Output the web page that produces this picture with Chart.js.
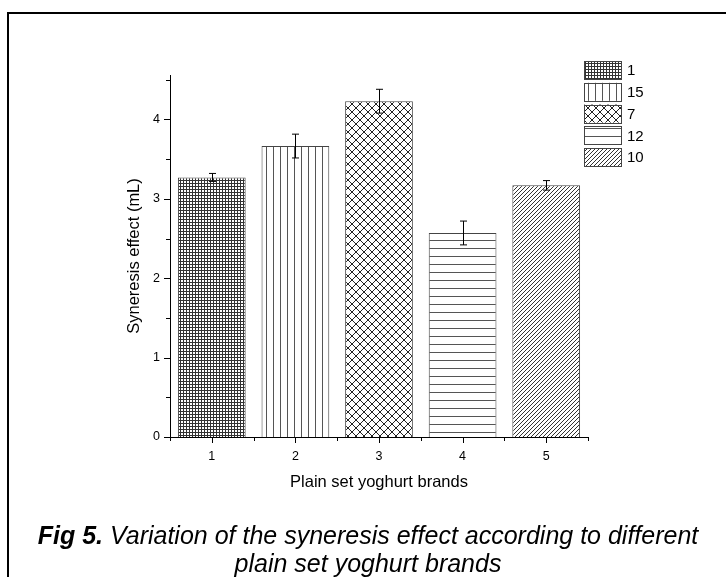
<!DOCTYPE html>
<html>
<head>
<meta charset="utf-8">
<script src="https://cdn.jsdelivr.net/npm/chart.js@4.4.1/dist/chart.umd.min.js"></script>
<style>
  html, body { margin: 0; padding: 0; background: #fff; overflow: hidden; }
  #wrap { position: relative; width: 726px; height: 577px; overflow: hidden; }
  #frame { position: absolute; left: 7px; top: 12px; width: 800px; height: 700px;
           border-top: 2px solid #000; border-left: 2px solid #000; }
  #chart { position: absolute; left: 0; top: 0; }
  .cap { position: absolute; left: 0; width: 736px; text-align: center;
         font: italic 25px 'Liberation Sans', Arial, sans-serif; line-height: 28px;
         color: #000; white-space: nowrap; }
</style>
</head>
<body>
<div id="wrap">
  <div id="frame"></div>
  <canvas id="chart" width="726" height="577"></canvas>
  <div class="cap" style="top:521px"><b>Fig 5.</b> Variation of the syneresis effect according to different</div>
  <div class="cap" style="top:549px">plain set yoghurt brands</div>
</div>
<script>
// data
const brands = ['1', '2', '3', '4', '5'];
const legendLabels = ['1', '15', '7', '12', '10'];
const syneresis = [3.27, 3.665, 4.23, 2.57, 3.17];
const errors = [0.05, 0.15, 0.15, 0.15, 0.06];
const yTicks = [0, 1, 2, 3, 4];

const FONT = "'Liberation Sans', Arial, sans-serif";
Chart.defaults.font.family = FONT;
Chart.defaults.color = '#000';

const canvas = document.getElementById('chart');
const ctx = canvas.getContext('2d');

// hatch fills, one per brand
function makePattern(w, h, draw) {
  const c = document.createElement('canvas');
  c.width = w; c.height = h;
  const g = c.getContext('2d');
  g.fillStyle = '#fff';
  g.fillRect(0, 0, w, h);
  draw(g);
  return ctx.createPattern(c, 'repeat');
}

const patterns = [
  makePattern(3, 3, g => { // fine grid
    g.fillStyle = '#333';
    g.fillRect(0, 0, 3, 1);
    g.fillRect(0, 0, 1, 3);
  }),
  makePattern(7, 1, g => { // vertical lines
    g.fillStyle = '#555';
    g.fillRect(0, 0, 1, 1);
  }),
  makePattern(8, 8, g => { // diagonal cross
    g.strokeStyle = '#222';
    g.lineWidth = 1;
    g.beginPath();
    g.moveTo(-1, -1); g.lineTo(9, 9);
    g.moveTo(-1, 9); g.lineTo(9, -1);
    g.stroke();
  }),
  makePattern(1, 8, g => { // horizontal lines
    g.fillStyle = '#555';
    g.fillRect(0, 0, 1, 1);
  }),
  makePattern(4, 4, g => { // forward diagonal
    g.strokeStyle = '#333';
    g.lineWidth = 1;
    g.beginPath();
    g.moveTo(-1, 5); g.lineTo(5, -1);
    g.moveTo(-1, 1); g.lineTo(1, -1);
    g.moveTo(3, 5); g.lineTo(5, 3);
    g.stroke();
  }),
];

// ticks (major + minor), error bars and legend
const extras = {
  id: 'extras',
  afterDatasetsDraw(chart) {
    const c = chart.ctx;
    const x = chart.scales.x, y = chart.scales.y;
    c.save();
    c.strokeStyle = '#000';
    c.lineWidth = 1;
    syneresis.forEach((v, i) => {
      const px = Math.round(x.getPixelForValue(i)) + 0.5;
      const top = y.getPixelForValue(v + errors[i]);
      const bot = y.getPixelForValue(v - errors[i]);
      c.beginPath();
      c.moveTo(px, top); c.lineTo(px, bot);
      c.moveTo(px - 3.5, top); c.lineTo(px + 3.5, top);
      c.moveTo(px - 3.5, bot); c.lineTo(px + 3.5, bot);
      c.stroke();
    });
    c.restore();
  },
  afterDraw(chart) {
    const c = chart.ctx;
    const x = chart.scales.x, y = chart.scales.y;
    const area = chart.chartArea;
    c.save();
    c.strokeStyle = '#000';
    c.lineWidth = 1;
    c.beginPath();
    // y ticks
    for (let v = 0; v <= 4.5; v += 0.5) {
      const py = Math.round(y.getPixelForValue(v)) + 0.5;
      const len = Number.isInteger(v) ? 6 : 4;
      c.moveTo(area.left - len, py); c.lineTo(area.left, py);
    }
    // x ticks
    const half = (x.getPixelForValue(1) - x.getPixelForValue(0)) / 2;
    brands.forEach((b, i) => {
      const px = Math.round(x.getPixelForValue(i)) + 0.5;
      c.moveTo(px, area.bottom); c.lineTo(px, area.bottom + 6);
    });
    for (let i = 0; i <= brands.length; i++) {
      const px = Math.round(x.getPixelForValue(0) - half + i * 2 * half) + 0.5;
      c.moveTo(px, area.bottom); c.lineTo(px, area.bottom + 4);
    }
    c.stroke();

    // legend
    c.font = '15px ' + FONT;
    c.textBaseline = 'middle';
    c.fillStyle = '#000';
    legendLabels.forEach((lab, i) => {
      const ly = 61 + i * 21.8;
      c.fillStyle = patterns[i];
      c.fillRect(584, ly, 37, 18);
      c.strokeStyle = '#444';
      c.strokeRect(584.5, Math.round(ly) + 0.5, 37, 18);
      c.fillStyle = '#000';
      c.fillText(lab, 627, ly + 10);
    });
    c.restore();
  }
};

new Chart(canvas, {
  type: 'bar',
  data: {
    labels: brands,
    datasets: [{
      data: syneresis,
      backgroundColor: patterns,
      borderColor: '#444',
      borderWidth: 1,
      barPercentage: 0.81,
      categoryPercentage: 1.0,
    }]
  },
  options: {
    responsive: false,
    animation: false,
    layout: { padding: { left: 115, top: 75, right: 138, bottom: 80 } },
    plugins: {
      legend: { display: false },
      tooltip: { enabled: false },
    },
    scales: {
      x: {
        offset: true,
        grid: { display: false, drawTicks: false },
        border: { color: '#000', width: 1 },
        ticks: { font: { size: 12.5 }, color: '#000', padding: 12 },
        title: { display: true, text: 'Plain set yoghurt brands', font: { size: 16.5 }, color: '#000', padding: { top: 0, bottom: 5 } },
        afterFit(scale) { scale.height = 60; },
      },
      y: {
        min: 0,
        max: 4.56,
        grid: { display: false, drawTicks: false },
        border: { color: '#000', width: 1 },
        afterBuildTicks(scale) { scale.ticks = yTicks.map(v => ({ value: v })); },
        ticks: { font: { size: 12.5 }, color: '#000', padding: 10 },
        title: { display: true, text: 'Syneresis effect (mL)', font: { size: 16.5 }, color: '#000', padding: { top: 10, bottom: 0 } },
        afterFit(scale) { scale.width = 55; },
      }
    }
  },
  plugins: [extras]
});
</script>
</body>
</html>
